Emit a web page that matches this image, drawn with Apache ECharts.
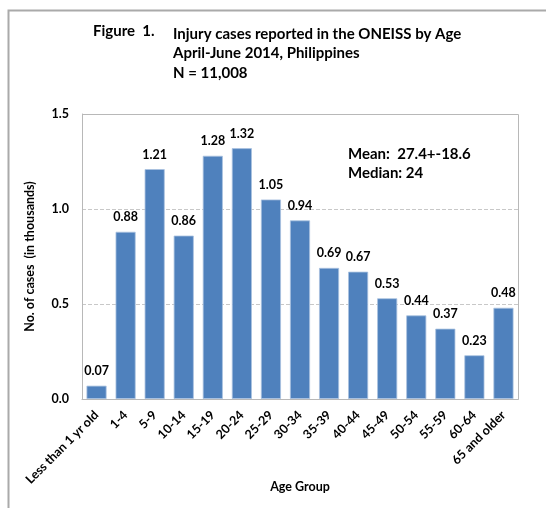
<!DOCTYPE html>
<html><head><meta charset="utf-8">
<script src="https://cdn.jsdelivr.net/npm/echarts@6/dist/echarts.min.js"></script>
<style>html,body{margin:0;padding:0;background:#fff}#c{width:546px;height:508px}</style>
</head><body><div id="c"></div>
<script>
const categories = ["Less than 1 yr old","1-4","5-9","10-14","15-19","20-24","25-29","30-34","35-39","40-44","45-49","50-54","55-59","60-64","65 and older"];
const cases = [0.07,0.88,1.21,0.86,1.28,1.32,1.05,0.94,0.69,0.67,0.53,0.44,0.37,0.23,0.48];
const yTicks = [0, 0.5, 1.0, 1.5];
const titleLines = ["Injury cases reported in the ONEISS by Age","April-June 2014, Philippines","N = 11,008"];
const statLines = ["Mean:  27.4+-18.6","Median: 24"];

const F = "Lato, 'Open Sans', sans-serif";
const chart = echarts.init(document.getElementById('c'));
chart.setOption({
  animation:false,
  backgroundColor:'#fff',
  graphic:[
    {type:'rect', shape:{x:8.5,y:10.5,width:700,height:700}, style:{fill:'none',stroke:'#aaaaaa',lineWidth:2}},
    {type:'text', left:93, top:24, style:{text:'Figure  1.', font:'bold 15px '+F, fill:'#000'}},
    {type:'text', left:173, top:24, style:{text:titleLines.join('\n'), font:'bold 15px '+F, fill:'#000', lineHeight:19.5}},
    {type:'text', left:348, top:144, style:{text:statLines.join('\n'), font:'bold 15px '+F, fill:'#000', lineHeight:19.5}},
    {type:'rect', shape:{x:82.5,y:114.5,width:436,height:285}, style:{fill:'none',stroke:'#b8b8b8',lineWidth:1}, z:10}
  ],
  grid:{left:82,right:28,top:114,bottom:109,containLabel:false,outerBoundsMode:'none'},
  xAxis:{
    type:'category', data:categories,
    name:'Age Group', nameLocation:'middle', nameGap:81, nameMoveOverlap:false,
    nameTextStyle:{fontWeight:'bold', fontSize:12.5, fontFamily:F, color:'#000'},
    axisLine:{show:true,lineStyle:{color:'#b8b8b8'}},
    axisTick:{show:false},
    axisLabel:{rotate:45, interval:0, fontWeight:'bold', fontSize:12.5, fontFamily:F, color:'#000', margin:14}
  },
  yAxis:{
    type:'value', min:0, max:1.5, interval:0.5,
    name:'No. of cases  (in thousands)', nameLocation:'middle', nameGap:46, nameMoveOverlap:false,
    nameTextStyle:{fontWeight:'bold', fontSize:12.5, fontFamily:F, color:'#000'},
    axisLine:{show:true,lineStyle:{color:'#b8b8b8'}},
    axisTick:{show:false},
    axisLabel:{fontWeight:'bold', fontSize:12.5, fontFamily:F, color:'#000', margin:13,
      formatter:v=>v.toFixed(1)},
    splitLine:{show:true,lineStyle:{color:'#c8c8c8',type:'dashed'}}
  },
  series:[{
    type:'bar', data:cases, barCategoryGap:'31%',
    itemStyle:{color:'#4f81bd', borderColor:'#a9c1e0', borderWidth:0.8},
    label:{show:true, position:'top', distance:8, fontWeight:'bold', fontSize:12.5, fontFamily:F, color:'#000',
      formatter:p=>p.value.toFixed(2)}
  }]
});
</script></body></html>
